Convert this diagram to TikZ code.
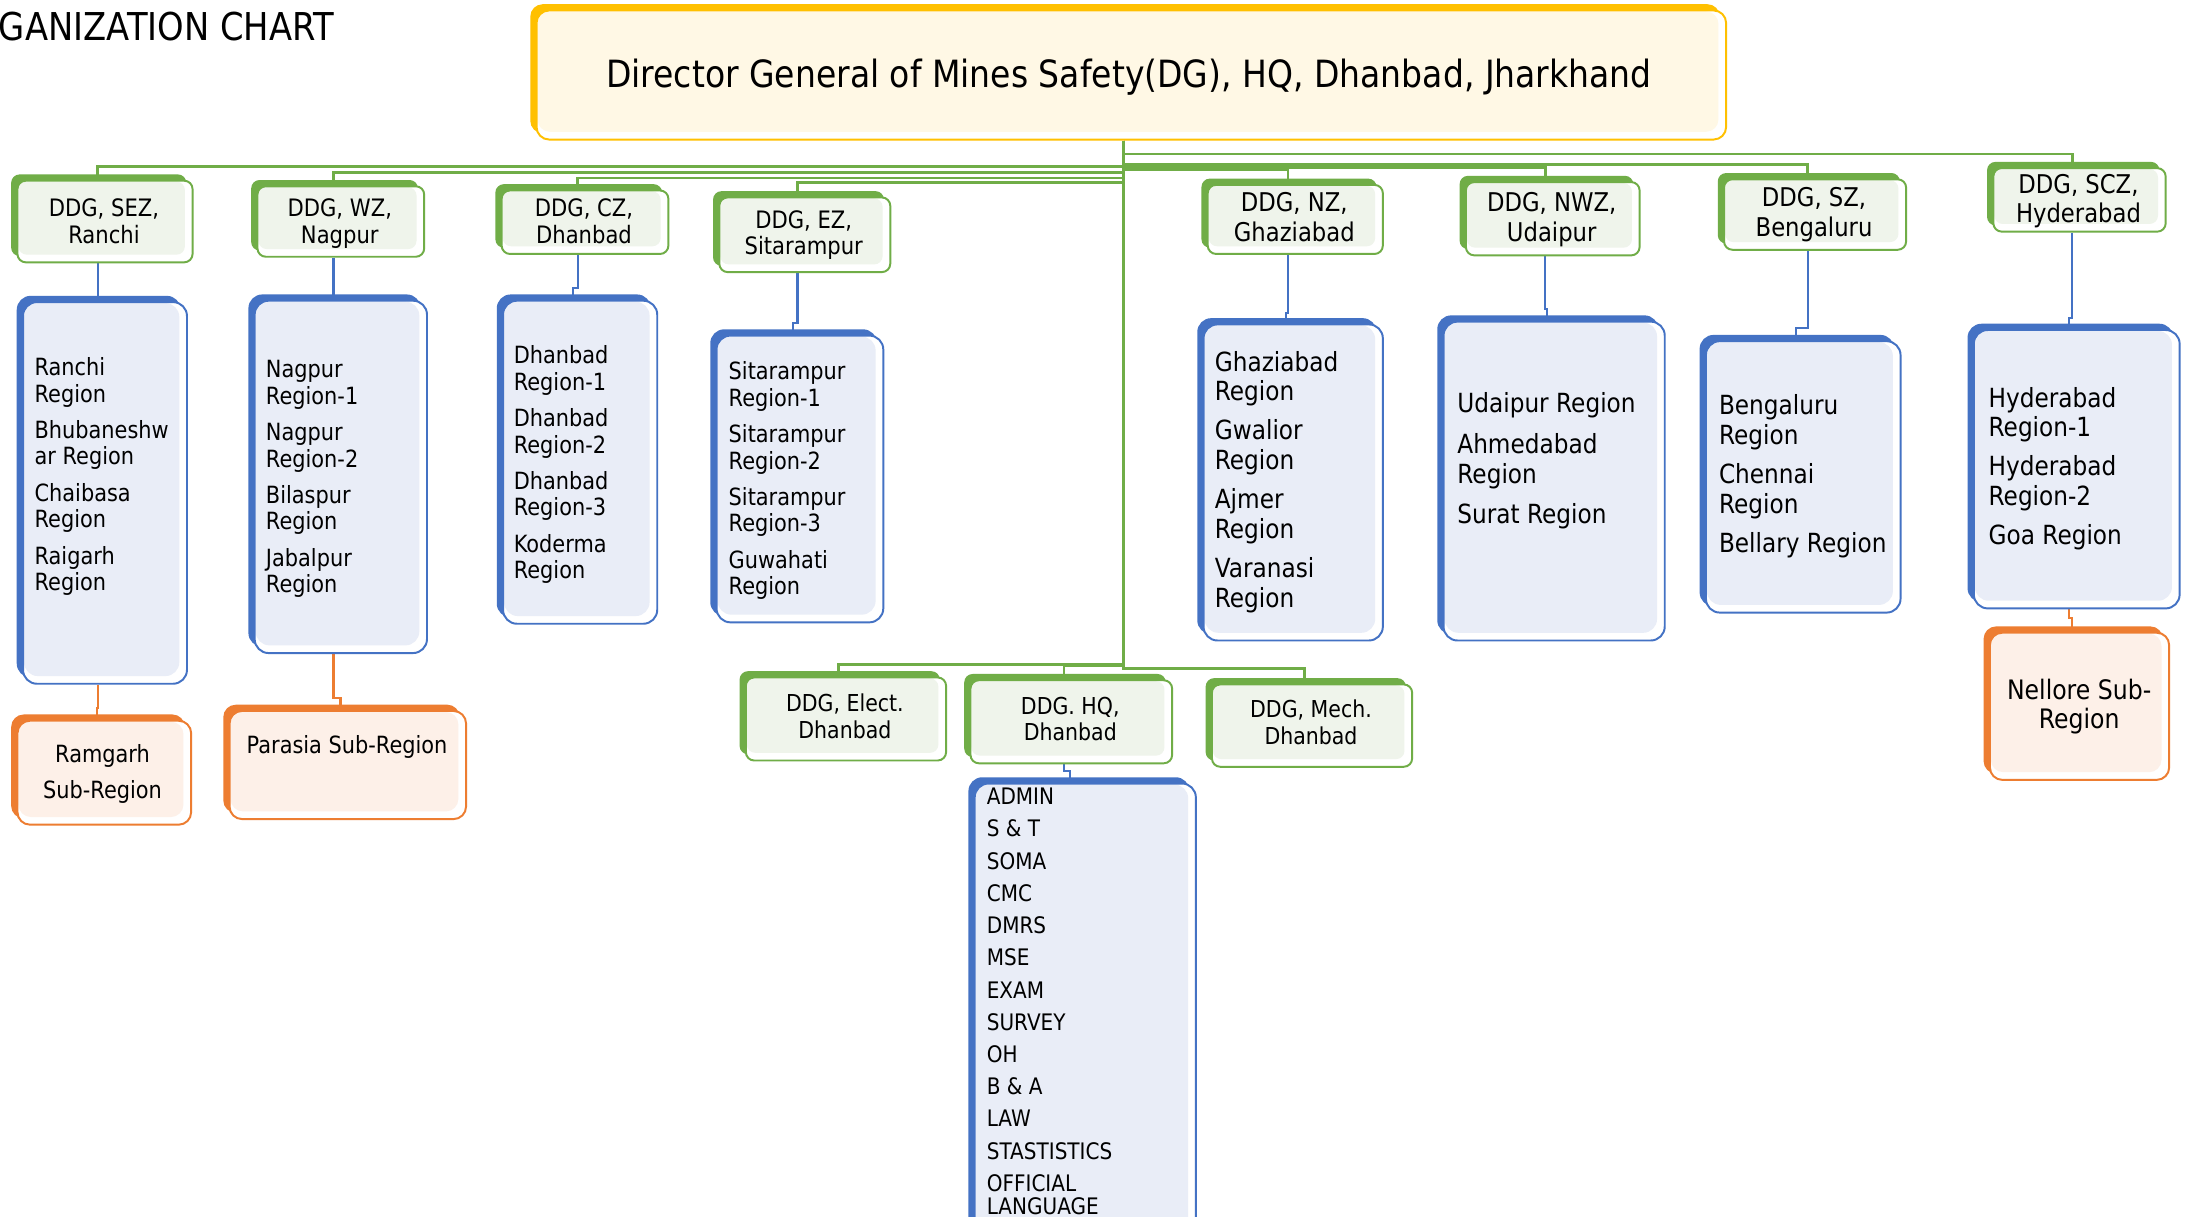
\documentclass[tikz,border=0pt]{standalone}
\usepackage{fontspec}
\newfontfamily\dfont[FakeStretch=0.88]{DejaVu Sans}
\usetikzlibrary{shadows,backgrounds}
\definecolor{gA}{HTML}{70AD47}
\definecolor{gF}{HTML}{EFF4EB}
\definecolor{bA}{HTML}{4472C4}
\definecolor{bF}{HTML}{E9EDF7}
\definecolor{oA}{HTML}{ED7D31}
\definecolor{oF}{HTML}{FDF0E8}
\definecolor{yA}{HTML}{FFC000}
\definecolor{yF}{HTML}{FFF8E5}
\newcommand{\stt}{\rule{0pt}{16pt}}
\newcommand{\fz}[2]{\dfont\fontsize{#1}{#2}\selectfont}
\begin{document}
\begin{tikzpicture}[x=1pt,y=-1pt,
  bx/.style n args={3}{rectangle, rounded corners=#3, inner sep=0pt, fill=white, draw=#1, line width=1.4pt,
    xshift=2.75pt, yshift=-2.75pt,
    general shadow={fill=#1, draw=none, shadow xshift=-4.5pt, shadow yshift=4.5pt},
    path picture={\fill[#2, rounded corners=#3] ([xshift=0.7pt,yshift=-0.7pt]path picture bounding box.north west) rectangle ([xshift=-5.5pt,yshift=5.5pt]path picture bounding box.south east);}},
  wh/.style 2 args={minimum width=#1pt+5.5pt, minimum height=#2pt+5.5pt},
  gbox/.style={bx={gA}{gF}{6pt}},
  bbox/.style={bx={bA}{bF}{10pt}},
  obox/.style={bx={oA}{oF}{9pt}},
  ybox/.style={bx={yA}{yF}{9pt}},
  gcon/.style={draw=gA, line width=2pt},
  bcon/.style={draw=bA, line width=1.5pt},
  ocon/.style={draw=oA, line width=1.5pt},
  ctext/.style={anchor=north, align=center, inner sep=0pt},
  ltext/.style={anchor=north west, align=left, inner sep=0pt}]

\useasboundingbox (0,0) rectangle (1568,872.1);
\clip (0,0) rectangle (1568,872.1);

% ---------- boxes ----------
\node[ybox, wh={847}{87}] (dg) at (808,51) {};

\node[gbox, wh={120}{53}] (d1) at (72.5,156) {};
\node[gbox, wh={114}{45}] (d2) at (241.5,156) {};
\node[gbox, wh={114}{40}] (d3) at (416.5,156.5) {};
\node[gbox, wh={117}{48}] (d4) at (574,165.5) {};
\node[gbox, wh={120}{44}] (d5) at (925.5,154.5) {};
\node[gbox, wh={119}{47}] (d6) at (1110,154) {};
\node[gbox, wh={125}{45}] (d7) at (1298,151) {};
\node[gbox, wh={118}{40}] (d8) at (1487.5,140.5) {};

\node[gbox, wh={138}{54}] (de) at (603.5,512.5) {};
\node[gbox, wh={139}{54}] (dhq) at (765,514.5) {};
\node[gbox, wh={138}{53.5}] (dm) at (937.5,517.25) {};

\node[bbox, wh={112}{268}] (r1) at (72.5,350.5) {};
\node[bbox, wh={118}{247}] (r2) at (241.5,339) {};
\node[bbox, wh={105}{226}] (r3) at (413,328.5) {};
\node[bbox, wh={114}{200}] (r4) at (570.5,340.5) {};
\node[bbox, wh={123}{221}] (r5) at (924,343) {};
\node[bbox, wh={153}{223}] (r6) at (1111,342) {};
\node[bbox, wh={134}{189}] (r7) at (1289.5,339) {};
\node[bbox, wh={142}{194}] (r8) at (1485.5,333.5) {};
\node[bbox, wh={153}{322.5}] (lst) at (775,722.75) {};

\node[obox, wh={119}{69}] (s1) at (72,551) {};
\node[obox, wh={164}{72}] (s2) at (246.5,545.5) {};
\node[obox, wh={123}{100}] (s3) at (1487.5,503.4) {};

% ---------- connectors ----------
\begin{scope}[on background layer]
\fill[white] (0,0) rectangle (1568,872.1);
\coordinate (tr) at ([xshift=-5.75pt]dg.south);
\draw[gcon] (tr) |- ([xshift=-5.25pt,yshift=9.5pt]d1.north) -- ([xshift=-5.25pt]d1.north);
\draw[gcon] (tr) |- ([xshift=-5.25pt,yshift=9.3pt]d2.north) -- ([xshift=-5.25pt]d2.north);
\draw[gcon] (tr) |- ([xshift=-5.25pt,yshift=8.2pt]d3.north) -- ([xshift=-5.25pt]d3.north);
\draw[gcon] (tr) |- ([xshift=-5.25pt,yshift=9.8pt]d4.north) -- ([xshift=-5.25pt]d4.north);
\draw[gcon] (tr) |- ([xshift=-5.25pt,yshift=10pt]d5.north) -- ([xshift=-5.25pt]d5.north);
\draw[gcon] (tr) |- ([xshift=-5.25pt,yshift=10pt]d6.north) -- ([xshift=-5.25pt]d6.north);
\draw[gcon] (tr) |- ([xshift=-5.25pt,yshift=10pt]d7.north) -- ([xshift=-5.25pt]d7.north);
\draw[gcon] (tr) |- ([xshift=-5.25pt,yshift=9.5pt]d8.north) -- ([xshift=-5.25pt]d8.north);
\draw[gcon] (tr) |- ([xshift=-5.25pt,yshift=8.8pt]de.north) -- ([xshift=-5.25pt]de.north);
\draw[gcon] (tr) |- ([xshift=-5.25pt,yshift=9.5pt]dhq.north) -- ([xshift=-5.25pt]dhq.north);
\draw[gcon] (tr) |- ([xshift=-5.25pt,yshift=10.9pt]dm.north) -- ([xshift=-5.25pt]dm.north);

\draw[bcon] ([xshift=-5.25pt]d1.south) -- ++(0,17) -| ([xshift=-5.25pt]r1.north);
\draw[bcon] ([xshift=-5.25pt]d2.south) -- ++(0,21) -| ([xshift=-5.25pt]r2.north);
\draw[bcon] ([xshift=-5.25pt]d3.south) -- ++(0,23.5) -| ([xshift=-5.25pt]r3.north);
\draw[bcon] ([xshift=-5.25pt]d4.south) -- ++(0,35.5) -| ([xshift=-5.25pt]r4.north);
\draw[bcon] ([xshift=-5.25pt]d5.south) -- ++(0,41.5) -| ([xshift=-5.25pt]r5.north);
\draw[bcon] ([xshift=-5.25pt]d6.south) -- ++(0,38) -| ([xshift=-5.25pt]r6.north);
\draw[bcon] ([xshift=-5.25pt]d7.south) -- ++(0,55.2) -| ([xshift=-5.25pt]r7.north);
\draw[bcon] ([xshift=-5.25pt]d8.south) -- ++(0,61) -| ([xshift=-5.25pt]r8.north);
\draw[bcon] ([xshift=-5.25pt]dhq.south) -- ++(0,5) -| ([xshift=-11.25pt]lst.north);

\draw[ocon] ([xshift=-5.25pt]r1.south) -- ++(0,16.5) -| ([xshift=-5.25pt]s1.north);
\draw[ocon] ([xshift=-5.25pt]r2.south) -- ++(0,31.5) -| ([xshift=-5.25pt]s2.north);
\draw[ocon] ([xshift=-5.25pt]r8.south) -- ++(0,6) -| ([xshift=-5.25pt]s3.north);
\end{scope}

% ---------- texts ----------
\node[anchor=base west, inner sep=0pt, font=\fz{27.5}{30}] (org) at (-1,28.7) {GANIZATION CHART};
\node[anchor=base, inner sep=0pt, font=\fz{26.9}{30}] (dgt) at (809,62.6) {Director General of Mines Safety(DG), HQ, Dhanbad, Jharkhand};

\node[ctext, font=\fz{17.2}{19}] (t1) at (74.5,139) {\stt DDG, SEZ,\\Ranchi};
\node[ctext, font=\fz{17.2}{19}] (t2) at (243.5,139) {\stt DDG, WZ,\\Nagpur};
\node[ctext, font=\fz{17.2}{19}] (t3) at (418.5,139) {\stt DDG, CZ,\\Dhanbad};
\node[ctext, font=\fz{17.2}{19}] (t4) at (576,147.5) {\stt DDG, EZ,\\Sitarampur};
\node[ctext, font=\fz{18.5}{21.5}] (t5) at (927.5,135.5) {\stt DDG, NZ,\\Ghaziabad};
\node[ctext, font=\fz{18.5}{21.5}] (t6) at (1112,135.5) {\stt DDG, NWZ,\\Udaipur};
\node[ctext, font=\fz{18.5}{21.5}] (t7) at (1300,132) {\stt DDG, SZ,\\Bengaluru};
\node[ctext, font=\fz{18.5}{21}] (t8) at (1489.5,122.5) {\stt DDG, SCZ,\\Hyderabad};

\node[ctext, font=\fz{16.7}{19.2}] (te) at (605.5,494) {\stt DDG, Elect.\\Dhanbad};
\node[ctext, font=\fz{16.7}{19.2}] (thq) at (767,495.5) {\stt DDG. HQ,\\Dhanbad};
\node[ctext, font=\fz{16.7}{19.2}] (tm) at (939.5,498.2) {\stt DDG, Mech.\\Dhanbad};

\node[ltext, font=\fz{17}{19}] (x1) at (24.6,253) {\stt Ranchi\\Region\\[7pt]Bhubaneshw\\ar Region\\[7pt]Chaibasa\\Region\\[7pt]Raigarh\\Region};
\node[ltext, font=\fz{17}{19}] (x2) at (190.4,254.5) {\stt Nagpur\\Region-1\\[7pt]Nagpur\\Region-2\\[7pt]Bilaspur\\Region\\[7pt]Jabalpur\\Region};
\node[ltext, font=\fz{17}{19}] (x3) at (368,244.5) {\stt Dhanbad\\Region-1\\[7pt]Dhanbad\\Region-2\\[7pt]Dhanbad\\Region-3\\[7pt]Koderma\\Region};
\node[ltext, font=\fz{17}{19}] (x4) at (522,256) {\stt Sitarampur\\Region-1\\[7pt]Sitarampur\\Region-2\\[7pt]Sitarampur\\Region-3\\[7pt]Guwahati\\Region};
\node[ltext, font=\fz{18.9}{21}] (x5) at (870.4,249.7) {\stt Ghaziabad\\Region\\[7.4pt]Gwalior\\Region\\[7.4pt]Ajmer\\Region\\[7.4pt]Varanasi\\Region};
\node[ltext, font=\fz{18.9}{21}] (x6) at (1044.2,279.1) {\stt Udaipur Region\\[9pt]Ahmedabad\\Region\\[7.5pt]Surat Region};
\node[ltext, font=\fz{18.9}{21}] (x7) at (1231.7,281) {\stt Bengaluru\\Region\\[7.5pt]Chennai\\Region\\[7.5pt]Bellary Region};
\node[ltext, font=\fz{18.9}{21}] (x8) at (1424.9,275.5) {\stt Hyderabad\\Region-1\\[7.4pt]Hyderabad\\Region-2\\[7.4pt]Goa Region};

\node[ltext, font=\fz{16.3}{23.1}] (xl) at (707,560.4) {\stt ADMIN\\S \& T\\SOMA\\CMC\\DMRS\\MSE\\EXAM\\SURVEY\\OH\\B \& A\\LAW\\STASTISTICS\\OFFICIAL\\[-6.7pt]LANGUAGE};

\node[ctext, font=\fz{17}{26}] (ts1) at (73.5,530) {\stt Ramgarh\\Sub-Region};
\node[ctext, font=\fz{17}{19}] (ts2) at (248.7,524) {\stt Parasia Sub-Region};
\node[ctext, font=\fz{19.2}{20.8}] (ts3) at (1490,485.3) {\stt Nellore Sub-\\Region};
\end{tikzpicture}
\end{document}
